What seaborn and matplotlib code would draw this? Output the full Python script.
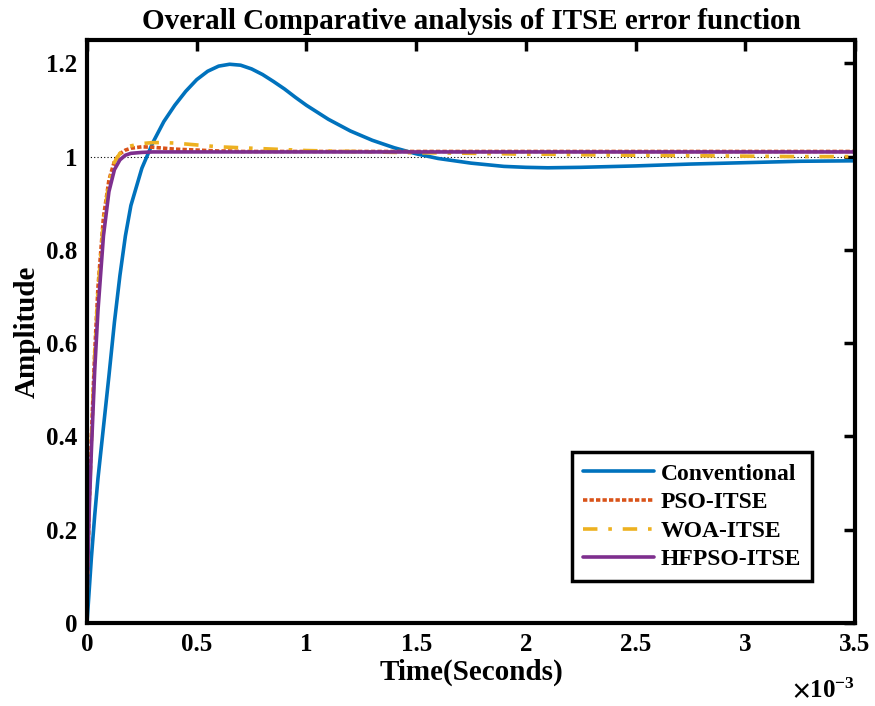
import numpy as np
import pandas as pd
import matplotlib
matplotlib.use("Agg")
import matplotlib.pyplot as plt
import seaborn as sns

# time in ms (x 10^-3 s)
t = [0, 0.01, 0.02, 0.035, 0.05, 0.075, 0.1, 0.125, 0.15, 0.175, 0.2, 0.25, 0.3, 0.35, 0.4, 0.45, 0.5, 0.55, 0.6,
     0.65, 0.7, 0.75, 0.8, 0.85, 0.9, 0.95, 1.0, 1.1, 1.2, 1.3, 1.4, 1.5, 1.6, 1.75, 1.9, 2.0, 2.1, 2.25, 2.5,
     2.75, 3.0, 3.25, 3.5]
conventional = [0.0, 0.07, 0.14, 0.23, 0.31, 0.42, 0.53, 0.645, 0.745, 0.83, 0.895, 0.975, 1.03, 1.075, 1.11, 1.14,
                1.165, 1.183, 1.194, 1.198, 1.196, 1.188, 1.176, 1.161, 1.145, 1.127, 1.11, 1.08, 1.055, 1.035,
                1.019, 1.006, 0.996, 0.986, 0.979, 0.977, 0.976, 0.977, 0.98, 0.984, 0.987, 0.99, 0.991]
pso = [0.05, 0.26, 0.4, 0.58, 0.72, 0.87, 0.95, 0.99, 1.006, 1.014, 1.018, 1.021, 1.02, 1.018, 1.016, 1.015, 1.014,
       1.013, 1.012, 1.012, 1.011, 1.011, 1.011, 1.011, 1.011, 1.011, 1.011, 1.011, 1.011, 1.011, 1.011, 1.011,
       1.011, 1.011, 1.011, 1.011, 1.011, 1.011, 1.011, 1.011, 1.011, 1.011, 1.011]
woa = [0.05, 0.25, 0.39, 0.57, 0.71, 0.86, 0.945, 0.988, 1.007, 1.017, 1.023, 1.028, 1.03, 1.03, 1.029, 1.027, 1.025,
       1.023, 1.021, 1.02, 1.019, 1.018, 1.017, 1.016, 1.015, 1.014, 1.013, 1.012, 1.011, 1.01, 1.009, 1.008,
       1.008, 1.007, 1.006, 1.005, 1.005, 1.004, 1.003, 1.002, 1.001, 1.0, 1.0]
hfpso = [0.05, 0.24, 0.37, 0.54, 0.67, 0.83, 0.925, 0.972, 0.993, 1.003, 1.007, 1.009, 1.01, 1.01, 1.01, 1.01, 1.01,
         1.01, 1.01, 1.01, 1.01, 1.01, 1.01, 1.01, 1.01, 1.01, 1.01, 1.01, 1.01, 1.01, 1.01, 1.01, 1.01, 1.01,
         1.01, 1.01, 1.01, 1.01, 1.01, 1.01, 1.01, 1.01, 1.01]

names = ["Conventional", "PSO-ITSE", "WOA-ITSE", "HFPSO-ITSE"]
series = [conventional, pso, woa, hfpso]
colors = ["#0072BD", "#D95319", "#EDB120", "#7E2F8E"]
styles = ["-", (0, (1.2, 0.6)), (0, (4, 3, 1, 3)), "-"]
xticks = [0, 0.5, 1, 1.5, 2, 2.5, 3, 3.5]
yticks = [0, 0.2, 0.4, 0.6, 0.8, 1, 1.2]

sns.set_style("white")
plt.rcParams["font.family"] = ["Liberation Serif", "DejaVu Serif"]
plt.rcParams["font.weight"] = "bold"
plt.rcParams["text.color"] = "black"
plt.rcParams["axes.labelcolor"] = "black"
plt.rcParams["xtick.color"] = "black"
plt.rcParams["ytick.color"] = "black"
plt.rcParams["mathtext.fontset"] = "stix"

df = pd.concat([pd.DataFrame({"t": t, "y": s, "name": n}) for n, s in zip(names, series)], ignore_index=True)

fig = plt.figure(figsize=(8.75, 7.06), dpi=100)
ax = fig.add_axes([87 / 875, 1 - 623 / 706, (855 - 87) / 875, (623 - 40) / 706])

ax.axhline(1.0, color="black", ls=(0, (1, 2)), lw=0.8, zorder=1)
for n, c, ls in zip(names, colors, styles):
    sns.lineplot(data=df[df["name"] == n], x="t", y="y", ax=ax, color=c, lw=2.6,
                 linestyle=ls, label=n, estimator=None, sort=False)

ax.set_xlim(0, 3.5)
ax.set_ylim(0, 1.25)
ax.set_xticks(xticks)
ax.set_xticklabels([f"{v:g}" for v in xticks])
ax.set_yticks(yticks)
ax.set_yticklabels([f"{v:g}" for v in yticks])
ax.tick_params(direction="in", length=8, width=2.5, top=True, right=True, labelsize=18, pad=7)
for lab in ax.get_xticklabels() + ax.get_yticklabels():
    lab.set_fontweight("bold")
for sp in ax.spines.values():
    sp.set_linewidth(3)
    sp.set_color("black")

ax.set_xlabel("Time(Seconds)", fontsize=21, fontweight="bold", labelpad=2)
ax.set_ylabel("Amplitude", fontsize=21, fontweight="bold", labelpad=4)
ax.set_title("Overall Comparative analysis of ITSE error function", fontsize=21, fontweight="bold", pad=8)
fig.text(855 / 875, 1 - 690 / 706, r"$\times\mathregular{10^{-3}}$", fontsize=18, ha="right", va="center")

leg = ax.legend(loc="lower right", bbox_to_anchor=(0.944, 0.072), fontsize=17, frameon=True, fancybox=False,
                framealpha=1, borderpad=0.45, handlelength=3.0, labelspacing=0.3, handletextpad=0.3,
                borderaxespad=0.0)
leg.get_frame().set_edgecolor("black")
leg.get_frame().set_linewidth(2.5)
for txt in leg.get_texts():
    txt.set_fontweight("bold")

fig.savefig("out.png", dpi=100)
